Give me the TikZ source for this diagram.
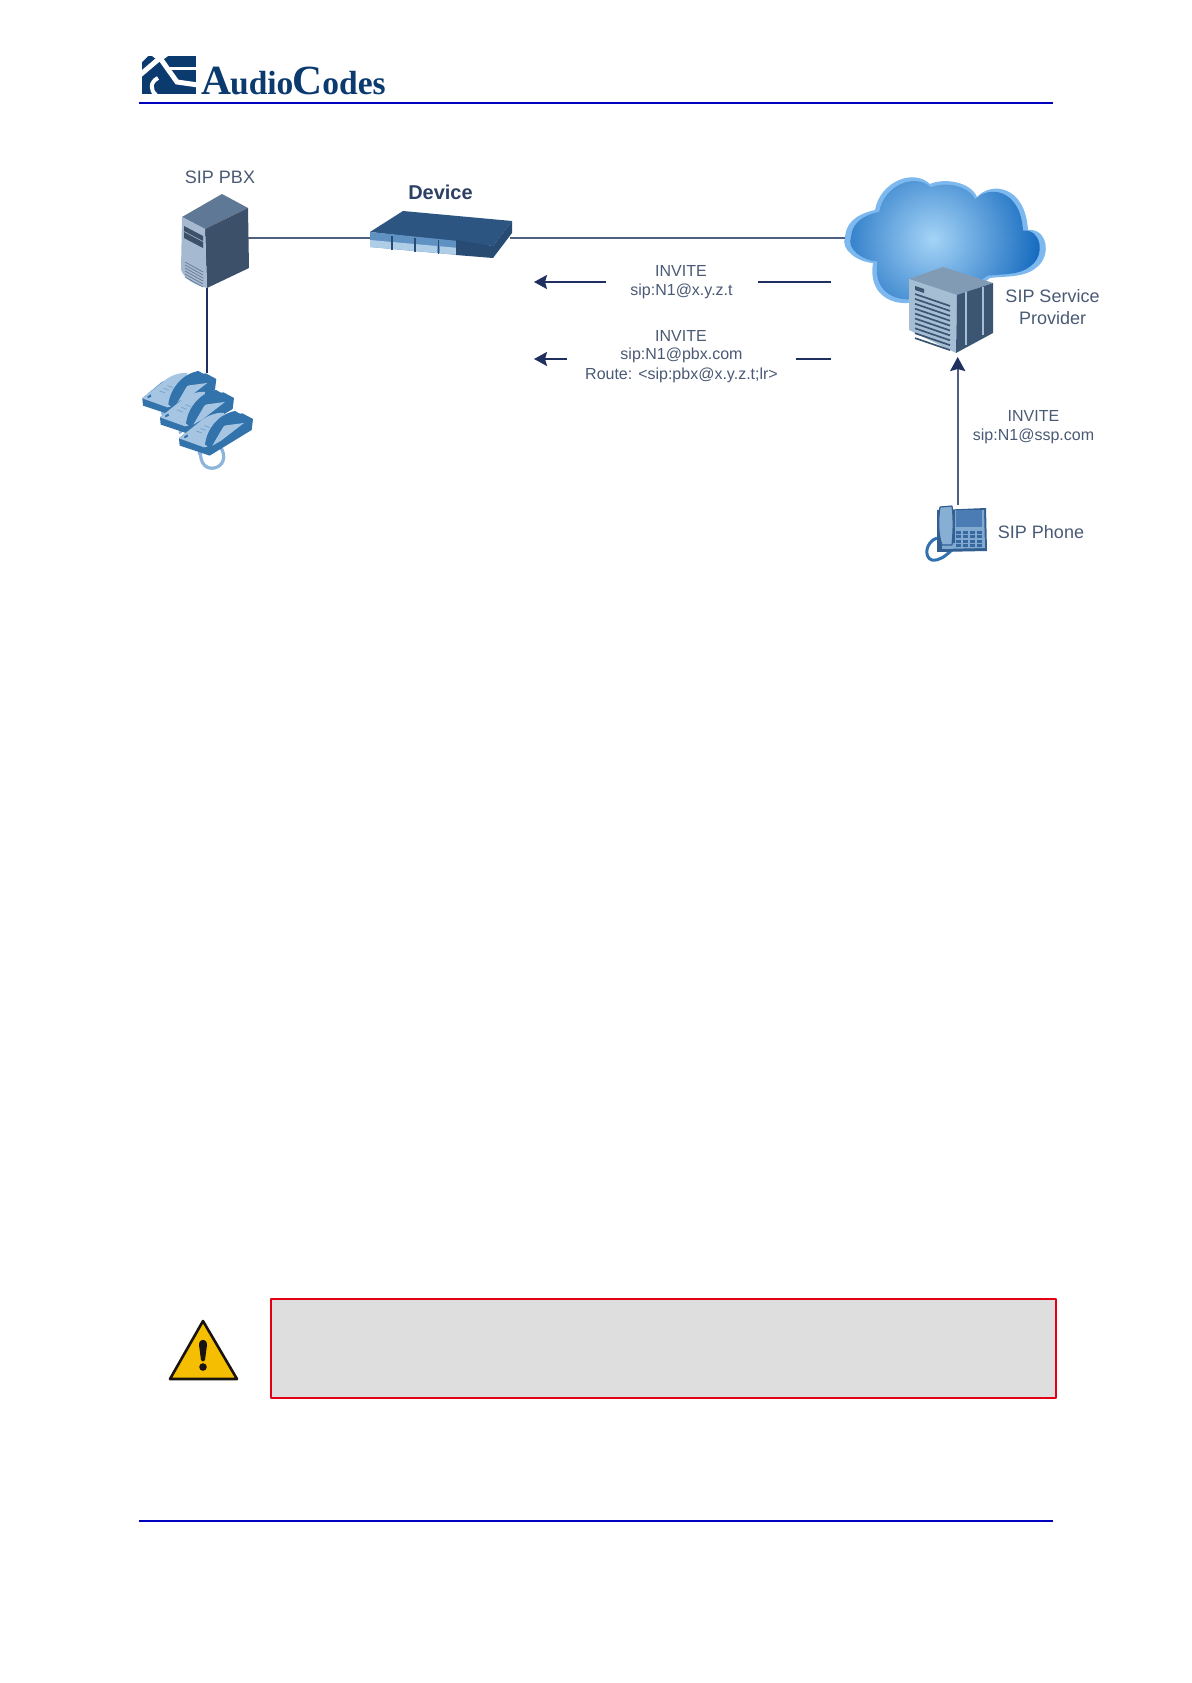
\documentclass[tikz,border=0pt]{standalone}
\usepackage{fontspec}
\setmainfont{Liberation Sans}
\newfontfamily\logofont{Liberation Serif}
\usetikzlibrary{arrows.meta}
\definecolor{txt}{HTML}{4A5A75}
\definecolor{navy}{HTML}{1F2F60}
\definecolor{wire}{HTML}{4F5F80}
\definecolor{logoblue}{HTML}{0B3A6E}
\definecolor{rule}{HTML}{0000C0}
\definecolor{ph}{HTML}{3373AC}
\definecolor{phl}{HTML}{A5C5E3}
\definecolor{phk}{HTML}{7FA8D0}
\definecolor{cord}{RGB}{140,180,220}
\definecolor{cloudin}{RGB}{165,212,247}
\definecolor{cloudout}{RGB}{20,105,190}
\definecolor{cloudrim}{RGB}{125,185,238}
\definecolor{pbxtop}{RGB}{95,120,150}
\definecolor{pbxdark}{RGB}{60,80,105}
\definecolor{pbxlight}{RGB}{165,185,208}
\definecolor{pbxline}{RGB}{95,115,140}
\definecolor{devtop}{RGB}{45,85,130}
\definecolor{devfront}{RGB}{95,145,195}
\definecolor{devpale}{RGB}{175,205,230}
\definecolor{devdark}{RGB}{40,75,115}
\definecolor{devtext}{RGB}{45,65,100}
\definecolor{ssptop}{RGB}{130,155,180}
\definecolor{ssplight}{RGB}{165,190,212}
\definecolor{sspdark}{RGB}{60,85,115}
\definecolor{cordblue}{RGB}{50,115,175}
\definecolor{telbody}{RGB}{50,95,145}
\definecolor{telface}{RGB}{130,170,208}
\definecolor{telscreen}{RGB}{75,125,180}
\definecolor{telkey}{RGB}{55,105,160}
\definecolor{telhand}{RGB}{135,175,212}
\definecolor{warnfill}{RGB}{245,190,0}
\definecolor{warnink}{RGB}{25,20,15}
\definecolor{notefill}{RGB}{222,222,222}
\definecolor{notered}{RGB}{225,0,20}
\tikzset{
  lab/.style={font=\fontsize{16}{18}\selectfont,text=txt,inner sep=0pt,anchor=center},
  biglab/.style={font=\fontsize{18}{20}\selectfont,text=txt,inner sep=0pt,anchor=center},
  wireline/.style={draw=wire,line width=2.2pt},
  msg/.style={draw=navy,line width=2pt},
  msgarrow/.style={msg,-{Stealth[length=13pt,width=14pt,inset=2pt]}},
  deskphone/.pic={
    % cord stub
    \draw[cord,line width=3pt,line cap=round] (72,22) .. controls (70,32) and (64,38) .. (60,46);
    % dark body
    \fill[ph] (0,0) -- (2,22) -- (92,52) -- (218,-25) -- (222,-58) -- (190,-75) -- (60,-50) -- cycle;
    % light panel left of handset
    \fill[phl] (0,0) -- (65,-52) .. controls (85,-68) and (110,-78) .. (135,-76) -- (130,-40) -- (85,25) -- (75,27) -- cycle;
    % light wedge right of handset
    \fill[phl] (135,-38) -- (195,-46) -- (125,8) -- (100,22) -- cycle;
    % handset
    \fill[ph] (78,18) .. controls (85,-30) and (118,-72) .. (168,-82) -- (193,-68) -- (190,-50) -- (158,-50) .. controls (132,-42) and (112,-18) .. (98,24) -- (88,26) -- cycle;
    % keypad marks
    \foreach \k in {0,1,2} \draw[phk,line width=.9pt] ({52+\k*12},{-22-\k*8}) -- ({68+\k*12},{-16-\k*8});
    \fill[ph] (15,-5) -- (25,-12) -- (27,-5) -- (17,0) -- cycle;
  }
}
\begin{document}
\begin{tikzpicture}[x=1pt,y=-1pt,line join=round]
\useasboundingbox (0,0) rectangle (1191,1683);
\fill[white] (0,0) rectangle (1191,1683);

% ---- header ----
\fill[logoblue] (142,56) rectangle (196,94.5);
\draw[white,line width=5pt,line join=miter] (140,75) -- (160,58) -- (177,82) -- (198,85);
\draw[white,line width=3pt] (170,69) -- (198,69);
\fill[white] (152,56) -- (168,56) -- (160,62) -- cycle;
\fill[white] (142,56) -- (148,56) -- (142,62) -- cycle;
\draw[white,line width=4pt] (158,78) .. controls (150,82) and (150,90) .. (156,95);
\node[inner sep=0pt,anchor=base west,text=logoblue] (logo) at (201,95)
  {\logofont\bfseries\fontsize{41.5}{42}\selectfont A\kern-1pt{\fontsize{33.5}{34}\selectfont udio}\kern-1pt C{\fontsize{33.5}{34}\selectfont odes}};
\coordinate (hl) at (139,103); \coordinate (hr) at (1052.5,103);
\draw[rule,line width=2.2pt] (hl) -- (hr);

% ---- cloud ----
\def\cloudpath{(845,237) .. controls (846,225) and (853,215) .. (875,210)
  .. controls (880,182) and (913,168) .. (930,184)
  .. controls (943,178) and (970,181) .. (977,197)
  .. controls (990,182) and (1025,184) .. (1028,230)
  .. controls (1047,228) and (1052,255) .. (1037,267)
  .. controls (1025,278) and (1005,276) .. (990,278)
  -- (960,300) -- (907,303)
  .. controls (892,304) and (868,295) .. (873,263)
  .. controls (858,262) and (840,250) .. (845,237) -- cycle}
\fill[cloudrim] \cloudpath;
\begin{scope}[shift={(945,240)},scale=.94,shift={(-945,-240)}]
  \clip \cloudpath;
  \shade[inner color=cloudin,outer color=cloudout] (932,239) circle (115);
\end{scope}

% ---- PBX server ----
\fill[pbxtop] (222,194) -- (248,208) -- (205,229) -- (182,217) -- cycle;
\fill[pbxdark] (205,229) -- (248,208) -- (249,268) -- (207,288) -- cycle;
\fill[pbxlight] (182,217) -- (205,229) -- (207,288) .. controls (195,285) and (185,280) .. (181,270) -- cycle;
\fill[pbxdark] (184,226) -- (203,236) -- (203,241) -- (184,231) -- cycle;
\fill[pbxdark] (184,232) -- (203,242) -- (203,248) -- (184,238) -- cycle;
\foreach \i in {0,1,2,3,4,5} \draw[pbxline,line width=.6pt] (185,{262+\i*3}) -- (203,{272+\i*3});
\node[inner sep=0pt] (pbx) at (215,241) {};
\node[biglab] (pbxlab) at (220,177) {SIP PBX};

% ---- device ----
\fill[devtop] (370,232) -- (403,211) -- (512,221) -- (493,246) -- cycle;
\fill[devfront] (370,232) -- (458,241) -- (458,255) -- (370,247) -- cycle;
\foreach \a/\b in {370/391,393/414,416/437,440/456}
  \fill[devpale] (\a,{240+(\a-370)*.09}) -- (\b,{240+(\b-370)*.09}) -- (\b,{247+(\b-370)*.09}) -- (\a,{247+(\a-370)*.09}) -- cycle;
\fill[devdark] (456,240) -- (493,246) -- (493,258) -- (456,255) -- cycle;
\fill[devdark] (493,246) -- (512,221) -- (512,233) -- (493,258) -- cycle;
\foreach \x in {392,415,438.5} \draw[devdark,line width=1.4pt] (\x,{234+(\x-370)*.09}) -- (\x,{248+(\x-370)*.09});
\node[inner sep=0pt] (device) at (440,237) {};
\node[inner sep=0pt,anchor=center,text=devtext,font=\bfseries\fontsize{20}{22}\selectfont] (devlab) at (440.5,192) {Device};

% ---- SSP server ----
\fill[ssptop] (909,279) -- (943,267) -- (993,283) -- (957,295) -- cycle;
\fill[ssplight] (909,279) -- (957,295) -- (956,353) -- (909,330) -- cycle;
\fill[sspdark] (957,295) -- (993,283) -- (993,333) -- (956,353) -- cycle;
\foreach \x/\a/\b in {966/292/345,983/287/335} \draw[ssplight,line width=1.6pt] (\x,\a) -- (\x,\b);
\fill[sspdark] (915,286) -- (924,289) -- (924,293) -- (915,290) -- cycle;
\foreach \i in {0,...,9} \draw[sspdark,line width=1.7pt] (915,{294+\i*4.9}) -- (950,{306+\i*4.9});
\node[inner sep=0pt] (ssp) at (957,320) {};
\node[biglab] (ssplab1) at (1052.5,296.5) {SIP Service};
\node[biglab] (ssplab2) at (1052.5,318) {Provider};

% ---- connectors ----
\draw[wireline] (248,237.7) -- (370,237.7);
\draw[wireline] (510,237.7) -- (845,237.7);
\draw[draw=navy,line width=2pt] (206.7,288) -- (206.7,373);

% ---- message arrows ----
\coordinate (a1r) at (831,282); \coordinate (a1m) at (757.7,282);
\coordinate (a1l) at (605.7,282); \coordinate (a1t) at (534,282);
\coordinate (a2r) at (831,359); \coordinate (a2m) at (796,359);
\coordinate (a2l) at (567.3,359); \coordinate (a2t) at (534,359);
\draw[msg] (a1r) -- (a1m);
\draw[msgarrow] (a1l) -- (a1t);
\draw[msg] (a2r) -- (a2m);
\draw[msgarrow] (a2l) -- (a2t);
\node[lab] (m1a) at (681,271) {INVITE};
\node[lab] (m1b) at (681.5,291) {sip:N1@x.y.z.t};
\node[lab] (m2a) at (681,335.5) {INVITE};
\node[lab] (m2b) at (681.5,355.5) {sip:N1@pbx.com};
\node[lab] (m2c) at (681.5,375) {Route: <sip:pbx@x.y.z.t;lr>};

% ---- phones ----
\draw[cord,line width=3.2pt] (203.3,443.3) .. controls (198,452) and (200,468) .. (211.7,468.3) .. controls (224,468) and (227,455) .. (220,446.7);
\pic[scale=1/3] at (142.3,398.3) {deskphone};
\pic[scale=1/3] at (160,417.3) {deskphone};
\pic[scale=1/3] at (179,438.3) {deskphone};

% ---- SIP phone ----
\draw[cordblue,line width=3pt] (937,538) .. controls (925,542) and (924,558) .. (932,560) .. controls (940,561) and (945,556) .. (952,550);
\fill[telbody] (937,510) -- (986,508) -- (987,551) -- (937,552) -- cycle;
\fill[telface] (955,510) -- (984,510) -- (985,548) -- (942,549) -- (942,545) -- (955,543) -- cycle;
\fill[telscreen] (955.7,510) rectangle (982,527.3);
\foreach \r in {0,1,2,3} \foreach \c in {0,1,2,3}
  \fill[telkey] ({956+\c*7},{531+\r*4.4}) rectangle +(5.4,2.8);
\fill[telhand,draw=telbody,line width=1.2pt] (940,507) -- (952,506) .. controls (954,520) and (953,535) .. (952,545) -- (942,545) .. controls (938,535) and (938,520) .. (940,507) -- cycle;
\node[inner sep=0pt] (phone) at (957.7,530) {};
\node[biglab] (phonelab) at (1041,532.5) {SIP Phone};
\draw[draw=wire,line width=2.2pt,-{Stealth[length=14pt,width=15pt,inset=2pt,color=navy]}] (957.7,505) -- (957.7,357);
\node[lab] (p1) at (1033.5,416) {INVITE};
\node[lab] (p2) at (1033.5,436) {sip:N1@ssp.com};

% ---- note ----
\fill[warnfill,draw=warnink,line width=2.6pt] (203,1321) -- (237,1379) -- (170,1379) -- cycle;
\fill[warnink] (199,1345) .. controls (199,1338) and (207,1338) .. (207,1345) -- (205,1360) .. controls (204,1362) and (202,1362) .. (201,1360) -- cycle;
\fill[warnink] (203,1367) circle (3.8);
\filldraw[fill=notefill,draw=notered,line width=2pt] (271,1299) rectangle (1055.7,1398);
\coordinate (fl) at (139,1520.7); \coordinate (fr) at (1052.5,1520.7);
\draw[rule,line width=2.2pt] (fl) -- (fr);
\end{tikzpicture}
\end{document}
